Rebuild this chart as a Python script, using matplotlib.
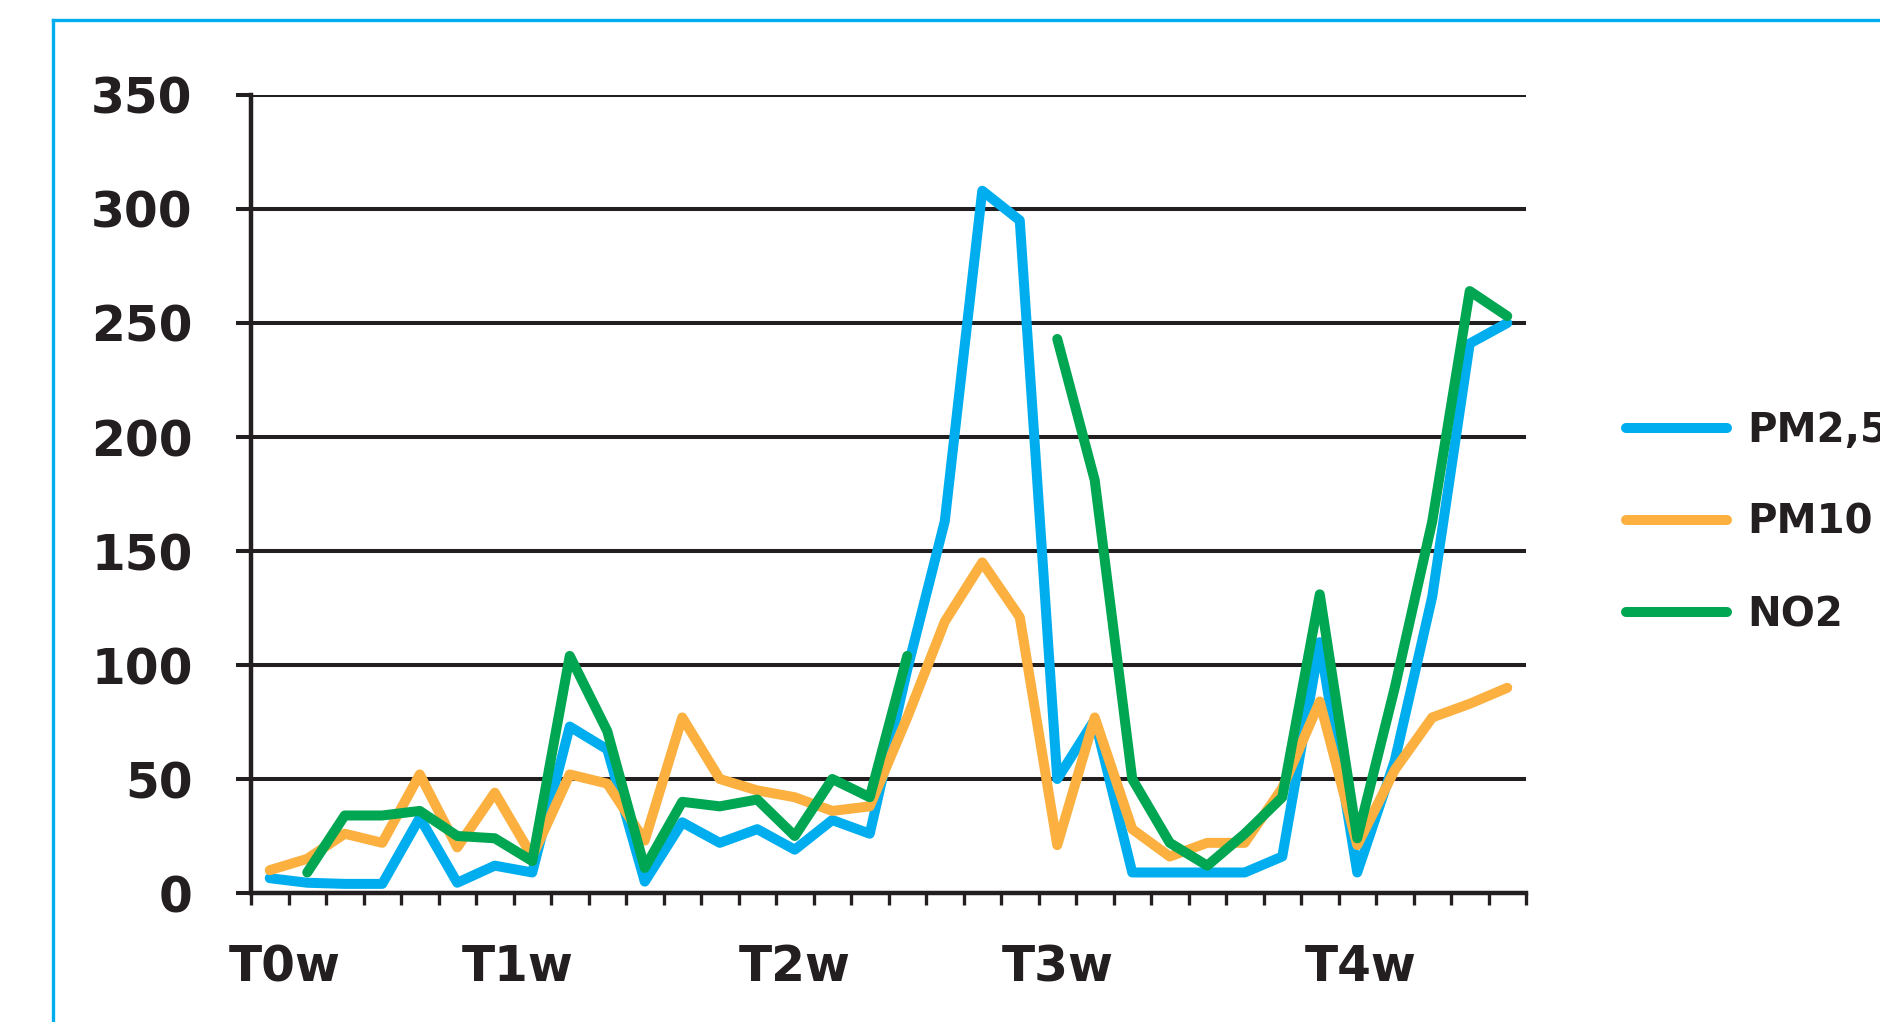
import numpy as np
import matplotlib
matplotlib.use("Agg")
import matplotlib.pyplot as plt
from matplotlib.lines import Line2D

# ---- data ----
pm25 = [6.5, 4.5, 4, 4, 33, 4.5, 12, 9, 73, 63, 5, 31, 22, 28, 19, 32, 26, 98,
        163, 308, 295, 50, 76, 9, 9, 9, 9, 16, 110, 9, 58, 130, 241, 250]
pm10 = [10, 15, 26, 22, 52, 20, 44, 16, 52, 48, 23, 77, 50, 45, 42, 36, 38, 77,
        119, 145, 121, 21, 77, 28, 16, 22, 22, 46, 84, 21, 54, 77, 83, 90]
no2 = [np.nan, 9, 34, 34, 36, 25, 24, 14, 104, 71, 11, 40, 38, 41, 25, 50, 42, 104,
       np.nan, np.nan, np.nan, 243, 181, 50, 22, 12, 26, 42, 131, 24, 90, 163, 264, 253]
series_names = ["PM2,5", "PM10", "NO2"]
x_labels = ["T0w", "T1w", "T2w", "T3w", "T4w"]
y_ticks = [0, 50, 100, 150, 200, 250, 300, 350]

colors = {"PM2,5": "#00AEEF", "PM10": "#FBB040", "NO2": "#00A651"}
dark = "#231F20"
FONT = "DejaVu Sans"

W, H = 1880, 1022
fig = plt.figure(figsize=(W / 100, H / 100), dpi=100)
fig.patch.set_facecolor("white")

# axes area (pixel measurements)
left, right, bottom, top = 251, 1526, 893, 95
ax = fig.add_axes([left / W, 1 - bottom / H, (right - left) / W, (bottom - top) / H])

n = len(pm25)
x = np.arange(n)

lw = 7.2
for name, vals, z in [("PM2,5", pm25, 3), ("PM10", pm10, 4), ("NO2", no2, 5)]:
    ax.plot(x, vals, color=colors[name], lw=lw, solid_capstyle="round",
            solid_joinstyle="round", zorder=z, clip_on=False, label=name)

ax.set_xlim(-0.5, n - 0.5)
ax.set_ylim(0, 350)

# y axis
ax.set_yticks(y_ticks)
ax.set_yticklabels([str(v) for v in y_ticks])
ax.yaxis.grid(True, color=dark, lw=2.9, zorder=1)
ax.set_axisbelow(True)
ax.tick_params(axis="y", direction="out", length=11, width=2.9, color=dark,
               pad=31, labelsize=35, labelcolor=dark)
for lab in ax.get_yticklabels():
    lab.set_fontweight("bold")
    lab.set_family(FONT)

# x axis: minor ticks at category boundaries, labels at chosen categories
ax.set_xticks(np.arange(-0.5, n, 1.0), minor=True)
ax.set_xticks([0.4, 6.6, 14.0, 21.0, 29.1])
ax.set_xticklabels(x_labels)
ax.tick_params(axis="x", which="minor", direction="out", length=8.5, width=2.4, color=dark)
ax.tick_params(axis="x", which="major", length=0, pad=36, labelsize=35, labelcolor=dark)
for lab in ax.get_xticklabels():
    lab.set_fontweight("bold")
    lab.set_family(FONT)

for s in ["top", "right"]:
    ax.spines[s].set_visible(False)
for s in ["left", "bottom"]:
    ax.spines[s].set_color(dark)
    ax.spines[s].set_linewidth(3.2)

# legend
handles = [Line2D([], [], color=colors[nm], lw=lw, solid_capstyle="round") for nm in series_names]
leg = fig.legend(handles, series_names, loc="center left",
                 bbox_to_anchor=(1626 / W, 1 - 523 / H), frameon=False,
                 borderpad=0, borderaxespad=0, handlelength=2.5, handletextpad=0.5,
                 labelspacing=1.3, prop={"family": FONT, "weight": "bold", "size": 29})
for t in leg.get_texts():
    t.set_color(dark)

# cyan frame (left and top edges visible)
fx, fy = 53 / W, 1 - 20 / H
fig.add_artist(Line2D([fx, fx], [0, fy], transform=fig.transFigure, color="#00AEEF", lw=2.4))
fig.add_artist(Line2D([fx, 1], [fy, fy], transform=fig.transFigure, color="#00AEEF", lw=2.4))

fig.savefig("out.png", dpi=100, facecolor="white")
